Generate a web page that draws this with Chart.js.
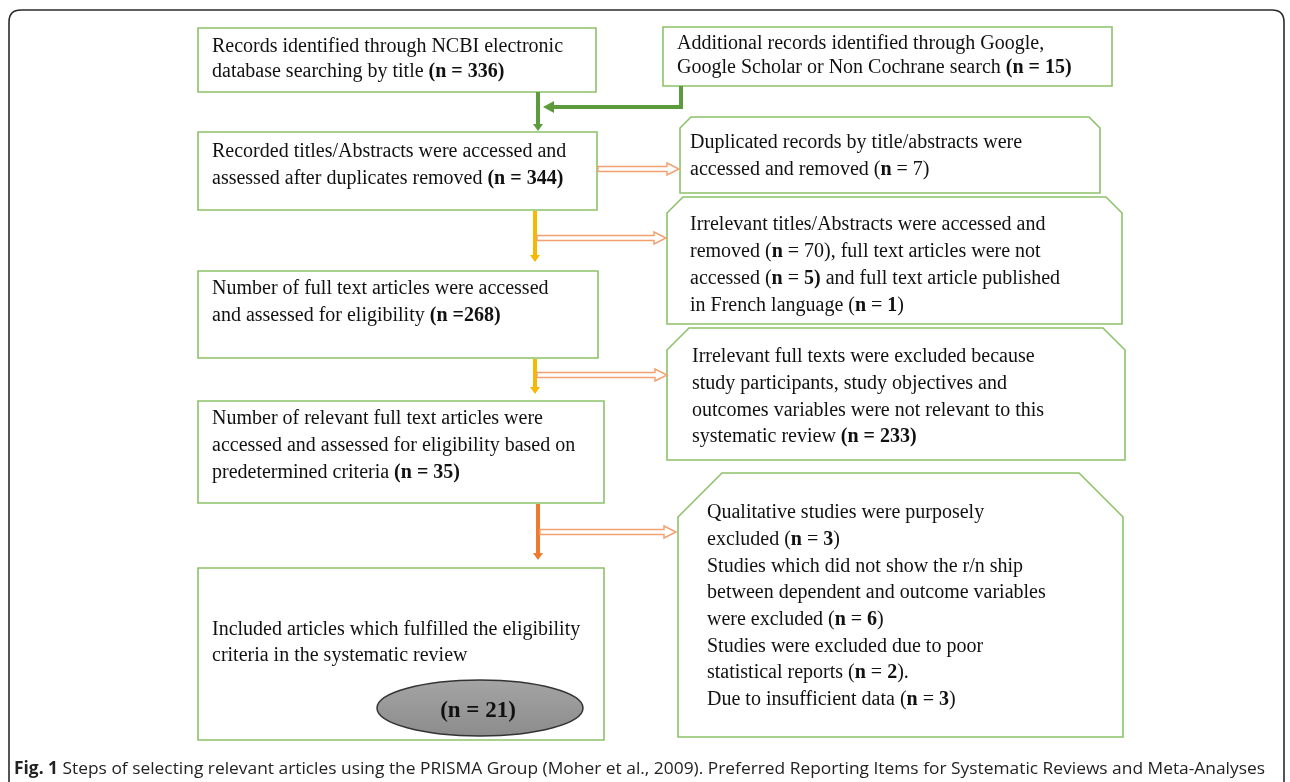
<!DOCTYPE html>
<html>
<head>
<meta charset="utf-8">
<script src="https://cdn.jsdelivr.net/npm/chart.js@4.4.1/dist/chart.umd.min.js"></script>
<style>
  html, body { margin: 0; padding: 0; background: #fff; overflow: hidden; }
  #wrap { width: 1290px; height: 782px; }
</style>
</head>
<body>
<div id="wrap"><canvas id="flow"></canvas></div>
<script>
// ---- PRISMA counts ----
const identifiedNcbi = 336;
const identifiedOther = 15;
const screened = 344;
const duplicatesRemoved = 7;
const titleExclusions = [70, 5, 1];      // irrelevant titles, not accessed, French
const fullTextAssessed = 268;
const fullTextExcluded = 233;
const relevantAssessed = 35;
const finalExclusions = [3, 6, 2, 3];    // qualitative, no r/n ship, poor stats, insufficient data
const included = 21;

// ---- box texts (** toggles bold) ----
const boxTexts = [
  ['Records identified through NCBI electronic', 'database searching by title **(n = ' + identifiedNcbi + ')**'],
  ['Additional records identified through Google,', 'Google Scholar or Non Cochrane search **(n = ' + identifiedOther + ')**'],
  ['Recorded titles/Abstracts were accessed and', 'assessed after duplicates removed **(n = ' + screened + ')**'],
  ['Duplicated records by title/abstracts were', 'accessed and removed (**n** = ' + duplicatesRemoved + ')'],
  ['Irrelevant titles/Abstracts were accessed and',
   'removed (**n** = ' + titleExclusions[0] + '), full text articles were not',
   'accessed (**n** = **' + titleExclusions[1] + ')** and full text article published',
   'in French language (**n** = **' + titleExclusions[2] + '**)'],
  ['Number of full text articles were accessed', 'and assessed for eligibility **(n =' + fullTextAssessed + ')**'],
  ['Irrelevant full texts were excluded because', 'study participants, study objectives and',
   'outcomes variables were not relevant to this', 'systematic review **(n = ' + fullTextExcluded + ')**'],
  ['Number of relevant full text articles were', 'accessed and assessed for eligibility based on',
   'predetermined criteria **(n = ' + relevantAssessed + ')**'],
  ['Qualitative studies were purposely', 'excluded (**n** = **' + finalExclusions[0] + '**)',
   'Studies which did not show the r/n ship', 'between dependent and outcome variables',
   'were excluded (**n** = **' + finalExclusions[1] + '**)', 'Studies were excluded due to poor',
   'statistical reports (**n** = **' + finalExclusions[2] + '**).', 'Due to insufficient data (**n** = **' + finalExclusions[3] + '**)'],
  ['Included articles which fulfilled the eligibility', 'criteria in the systematic review']
];
const includedLabel = '(n = ' + included + ')';
const captionBold = 'Fig. 1';
const captionText = ' Steps of selecting relevant articles using the PRISMA Group (Moher et al., 2009). Preferred Reporting Items for Systematic Reviews and Meta-Analyses';

// ---- layout (chart units = page pixels) ----
// [x0, y0, x1, y1, cornerCut, textX, firstLineY, lineGap]
const boxLayout = [
  [198, 28, 596, 92, 0, 212, 47, 25],
  [663, 27, 1112, 86, 0, 677, 44, 24],
  [198, 132, 597, 210, 0, 212, 152, 27],
  [680, 117, 1100, 193, 11, 690, 143, 27],
  [667, 197, 1122, 324, 16, 690, 225, 27],
  [198, 271, 598, 358, 0, 212, 289, 27],
  [667, 328, 1125, 460, 22, 692, 357, 26.7],
  [198, 401, 604, 503, 0, 212, 419, 27],
  [678, 473, 1123, 737, 44, 707, 513, 26.7],
  [198, 568, 604, 740, 0, 212, 630, 26]
];

const GREEN = '#8dc26a', DARKGREEN = '#5c9b3b', GOLD = '#f6b800', ORANGE = '#ef7a2e', PEACH = '#f2a070';

const flowPlugin = {
  id: 'flow',
  afterDraw(chart) {
    const ctx = chart.ctx;
    const xs = chart.scales.x, ys = chart.scales.y;
    const X = v => xs.getPixelForValue(v);
    const Y = v => ys.getPixelForValue(v);
    ctx.save();

    // outer frame
    ctx.strokeStyle = '#2b2b2b';
    ctx.lineWidth = 1.6;
    ctx.beginPath();
    ctx.moveTo(X(9), Y(800));
    ctx.lineTo(X(9), Y(22));
    ctx.quadraticCurveTo(X(9), Y(10), X(21), Y(10));
    ctx.lineTo(X(1272), Y(10));
    ctx.quadraticCurveTo(X(1284), Y(10), X(1284), Y(22));
    ctx.lineTo(X(1284), Y(800));
    ctx.stroke();

    // boxes
    boxLayout.forEach((b, i) => {
      const [x0, y0, x1, y1, c] = b;
      ctx.beginPath();
      ctx.moveTo(X(x0), Y(y1));
      ctx.lineTo(X(x0), Y(y0 + c));
      ctx.lineTo(X(x0 + c), Y(y0));
      ctx.lineTo(X(x1 - c), Y(y0));
      ctx.lineTo(X(x1), Y(y0 + c));
      ctx.lineTo(X(x1), Y(y1));
      ctx.closePath();
      ctx.fillStyle = '#fff';
      ctx.fill();
      ctx.strokeStyle = GREEN;
      ctx.lineWidth = 1.6;
      ctx.stroke();
      boxTexts[i].forEach((ln, k) => drawRich(ctx, ln, X(b[5]), Y(b[6] + k * b[7])));
    });

    // solid arrows
    solidV(ctx, X(538), Y(92), Y(131), DARKGREEN);
    solidV(ctx, X(535), Y(211), Y(262), GOLD);
    solidV(ctx, X(535), Y(359), Y(394), GOLD);
    solidV(ctx, X(538), Y(504), Y(560), ORANGE);

    // connector from additional records
    ctx.strokeStyle = DARKGREEN;
    ctx.lineWidth = 4;
    ctx.beginPath();
    ctx.moveTo(X(681), Y(86));
    ctx.lineTo(X(681), Y(107));
    ctx.moveTo(X(683), Y(107));
    ctx.lineTo(X(552), Y(107));
    ctx.stroke();
    ctx.fillStyle = DARKGREEN;
    ctx.beginPath();
    ctx.moveTo(X(543), Y(107));
    ctx.lineTo(X(554), Y(101));
    ctx.lineTo(X(554), Y(113));
    ctx.closePath();
    ctx.fill();

    // hollow side arrows
    hollowH(ctx, X(598), X(679), Y(169));
    hollowH(ctx, X(537), X(666), Y(238));
    hollowH(ctx, X(537), X(667), Y(375));
    hollowH(ctx, X(540), X(676), Y(532));

    // included ellipse
    const ex = X(480), ey = Y(708);
    const g = ctx.createLinearGradient(0, ey - 28, 0, ey + 28);
    g.addColorStop(0, '#a4a4a4');
    g.addColorStop(1, '#8c8c8c');
    ctx.beginPath();
    ctx.ellipse(ex, ey, 103, 28, 0, 0, Math.PI * 2);
    ctx.fillStyle = g;
    ctx.fill();
    ctx.strokeStyle = '#333';
    ctx.lineWidth = 1.5;
    ctx.stroke();
    ctx.fillStyle = '#111';
    ctx.font = 'bold 23px "Liberation Serif"';
    ctx.textAlign = 'center';
    ctx.textBaseline = 'middle';
    ctx.fillText(includedLabel, ex - 2, ey + 3);

    // caption
    ctx.textAlign = 'left';
    ctx.textBaseline = 'middle';
    ctx.font = 'bold 17px "Open Sans"';
    const bw = ctx.measureText(captionBold).width;
    ctx.font = '17px "Open Sans"';
    const tw = ctx.measureText(captionText).width;
    const sx = (1265 - 14) / (bw + tw);
    ctx.save();
    ctx.translate(X(14), Y(769));
    ctx.scale(sx, 1);
    ctx.fillStyle = '#222';
    ctx.font = 'bold 17px "Open Sans"';
    ctx.fillText(captionBold, 0, 0);
    ctx.font = '17px "Open Sans"';
    ctx.fillText(captionText, bw, 0);
    ctx.restore();

    ctx.restore();
  }
};

function drawRich(ctx, line, x, y) {
  ctx.textAlign = 'left';
  ctx.textBaseline = 'middle';
  ctx.fillStyle = '#111';
  const parts = line.split('**');
  let cx = x;
  parts.forEach((p, i) => {
    ctx.font = (i % 2 ? 'bold ' : '') + '20px "Liberation Serif"';
    ctx.fillText(p, cx, y);
    cx += ctx.measureText(p).width;
  });
}

function solidV(ctx, x, y0, y1, col) {
  ctx.strokeStyle = col;
  ctx.fillStyle = col;
  ctx.lineWidth = 4;
  ctx.beginPath();
  ctx.moveTo(x, y0);
  ctx.lineTo(x, y1 - 6);
  ctx.stroke();
  ctx.beginPath();
  ctx.moveTo(x - 5, y1 - 7);
  ctx.lineTo(x + 5, y1 - 7);
  ctx.lineTo(x, y1);
  ctx.closePath();
  ctx.fill();
}

function hollowH(ctx, x0, x1, y) {
  ctx.beginPath();
  ctx.moveTo(x0, y - 2.5);
  ctx.lineTo(x1 - 12, y - 2.5);
  ctx.lineTo(x1 - 12, y - 6);
  ctx.lineTo(x1, y);
  ctx.lineTo(x1 - 12, y + 6);
  ctx.lineTo(x1 - 12, y + 2.5);
  ctx.lineTo(x0, y + 2.5);
  ctx.closePath();
  ctx.fillStyle = '#fff';
  ctx.fill();
  ctx.strokeStyle = PEACH;
  ctx.lineWidth = 1.4;
  ctx.stroke();
}

new Chart(document.getElementById('flow'), {
  type: 'scatter',
  data: { datasets: [{ data: [], pointRadius: 0 }] },
  options: {
    responsive: true,
    maintainAspectRatio: false,
    animation: false,
    layout: { padding: 0 },
    plugins: { legend: { display: false }, tooltip: { enabled: false } },
    scales: {
      x: { type: 'linear', min: 0, max: 1290, display: false },
      y: { type: 'linear', min: 0, max: 782, reverse: true, display: false }
    }
  },
  plugins: [flowPlugin]
});
</script>
</body>
</html>
